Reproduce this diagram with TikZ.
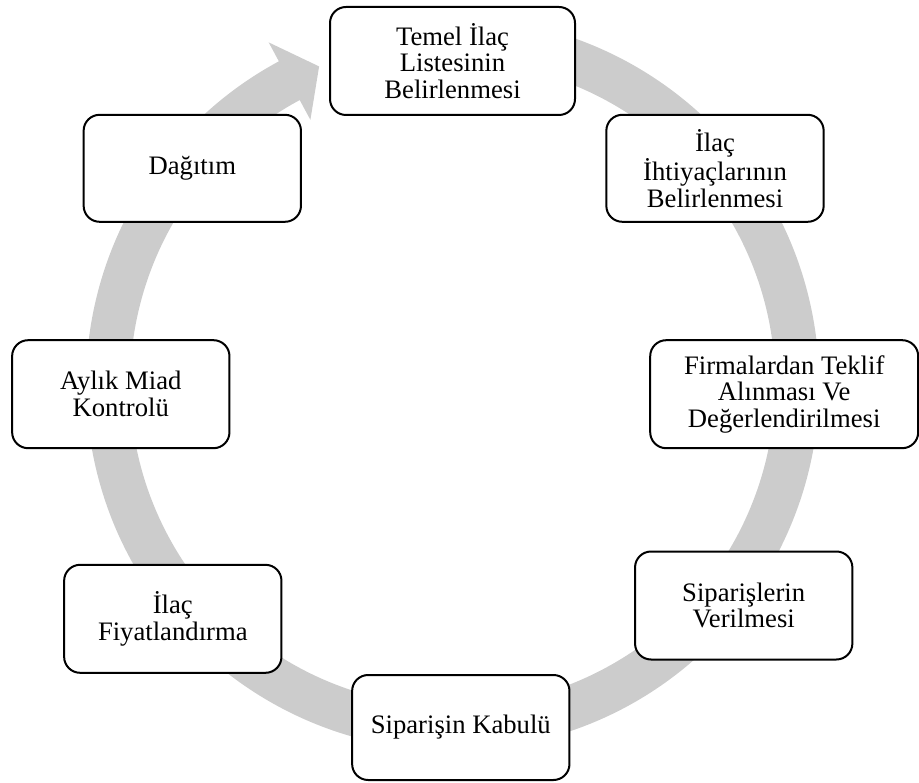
\documentclass[tikz,border=0pt]{standalone}
\usepackage{fontspec}
\setmainfont{Liberation Serif}
\definecolor{ringgray}{RGB}{204,204,204}
\begin{document}
\begin{tikzpicture}[x=0.75pt,y=0.75pt,line join=round,
  stage/.style={draw,line width=1.5pt,rounded corners=12pt,fill=white,align=center,
    minimum width=163pt,minimum height=81pt,font=\fontsize{20}{20}\selectfont}]
  \useasboundingbox (0,0) rectangle (919,782);
  \coordinate (O) at (452.6,398);
  \fill[ringgray,shift={(O)}] (100:366.5) arc[start angle=100,end angle=-241.7,radius=366.5]
    -- (118.3:388) -- (112.8:344.5) -- (118.3:300) -- (-241.7:322.5)
    arc[start angle=-241.7,end angle=100,radius=322.5] -- cycle;
  \node[stage,minimum width=183.75pt] (temel) at (452.5,721) {Temel İlaç\\Listesinin\\Belirlenmesi};
  \node[stage,minimum height=80.25pt] (ihtiyac) at (715,613.7) {İlaç\\İhtiyaçlarının\\Belirlenmesi};
  \node[stage,minimum width=201pt] (teklif) at (784.2,387.8) {Firmalardan Teklif\\Alınması Ve\\Değerlendirilmesi};
  \node[stage] (siparis) at (743.7,176.5) {Siparişlerin\\Verilmesi};
  \node[stage,minimum height=78.75pt] (kabul) at (460.8,54.5) {Siparişin Kabulü};
  \node[stage] (fiyat) at (172.8,163.2) {İlaç\\Fiyatlandırma};
  \node[stage] (miad) at (120.8,387.8) {Aylık Miad\\Kontrolü};
  \node[stage,minimum height=80.25pt] (dagitim) at (192.3,613.7) {Dağıtım};
\end{tikzpicture}
\end{document}
